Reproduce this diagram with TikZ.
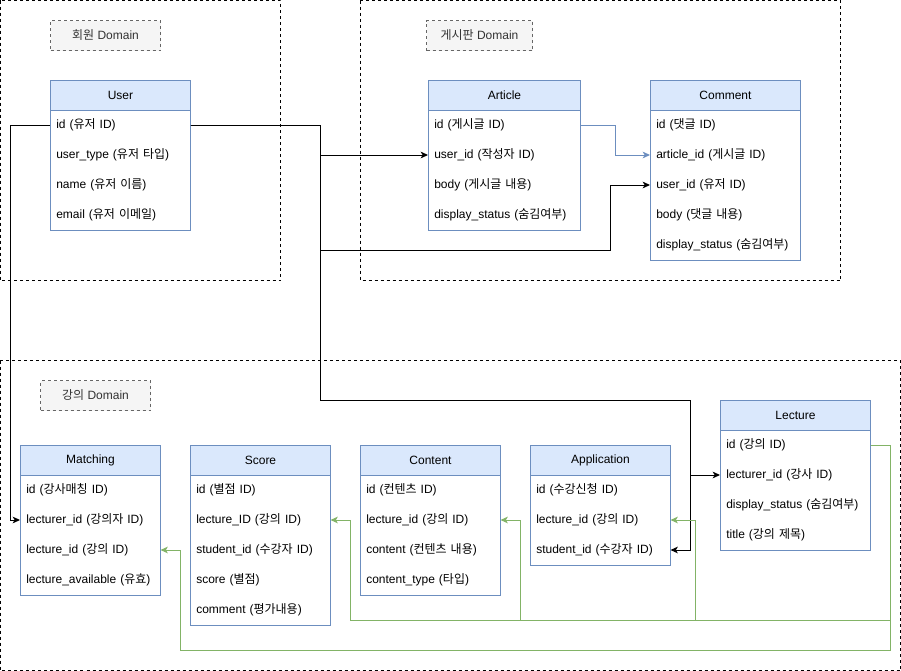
\documentclass[tikz,border=0pt]{standalone}
\usepackage{fontspec}
\setmainfont{Liberation Sans}
\newfontfamily\krfont{Noto Sans CJK KR}
\newcommand\kr[1]{{\krfont #1}}
\usetikzlibrary{arrows.meta}
\definecolor{hdrfill}{HTML}{DAE8FC}
\definecolor{hdrline}{HTML}{6C8EBF}
\definecolor{grn}{HTML}{82B366}
\definecolor{lblfill}{HTML}{F5F5F5}
\definecolor{lblline}{HTML}{666666}
\definecolor{lbltext}{HTML}{333333}
\tikzset{
  every node/.style={font=\fontsize{9pt}{11pt}\selectfont},
  domainbox/.style={draw=black, line width=0.75pt, dash pattern=on 2.25pt off 2.25pt},
  domlabel/.style={draw=lblline, fill=lblfill, text=lbltext, line width=0.75pt,
     dash pattern=on 2.25pt off 2.25pt, minimum width=#1, minimum height=22.5pt, inner sep=0pt, anchor=north west},
  hdr/.style={draw=hdrline, fill=hdrfill, line width=0.75pt, minimum width=#1, minimum height=22.5pt, inner sep=0pt, anchor=north west},
  tbody/.style={draw=hdrline, fill=white, line width=0.75pt, inner sep=0pt, anchor=north west},
  row/.style={minimum height=22.5pt, text width=#1, inner xsep=4.5pt, inner ysep=0pt, align=left, anchor=west},
  conn/.style={draw=black, line width=0.75pt, -{Stealth[length=5.5pt,width=5pt,inset=1.5pt]}},
  bconn/.style={draw=hdrline, line width=0.75pt, -{Stealth[length=5.5pt,width=5pt,inset=1.5pt]}},
  gconn/.style={draw=grn, line width=0.75pt, -{Stealth[length=5.5pt,width=5pt,inset=1.5pt]}},
}
\begin{document}
\begin{tikzpicture}[x=0.75pt,y=-0.75pt]
\useasboundingbox (0,0) rectangle (901,671);
% domains
\draw[domainbox] (0.5,0.5) rectangle (280.5,280.5);
\draw[domainbox] (360.5,0.5) rectangle (840.5,280.5);
\draw[domainbox] (0.5,360.5) rectangle (900.5,670.5);
\node[domlabel=82.5pt] (lbl1) at (50,20) {\kr{회원} Domain};
\node[domlabel=79.5pt] (lbl2) at (426,20) {\kr{게시판} Domain};
\node[domlabel=82.5pt] (lbl3) at (40,380) {\kr{강의} Domain};

% User
\node[tbody, minimum width=105pt, minimum height=90pt] (user) at (50,110) {};
\node[hdr=105pt] (user-h) at (50,80) {User};
\node[row=96pt] (user-id) at (50,125) {id (\kr{유저} ID)};
\node[row=96pt] (user-type) at (50,155) {user\_type (\kr{유저 타입})};
\node[row=96pt] (user-name) at (50,185) {name (\kr{유저 이름})};
\node[row=96pt] (user-mail) at (50,215) {email (\kr{유저 이메일})};

% Article
\node[tbody, minimum width=114pt, minimum height=90pt] (art) at (428,110) {};
\node[hdr=114pt] (art-h) at (428,80) {Article};
\node[row=105pt] (art-id) at (428,125) {id (\kr{게시글} ID)};
\node[row=105pt] (art-uid) at (428,155) {user\_id (\kr{작성자} ID)};
\node[row=105pt] (art-body) at (428,185) {body (\kr{게시글 내용})};
\node[row=105pt] (art-ds) at (428,215) {display\_status (\kr{숨김여부})};

% Comment
\node[tbody, minimum width=112.5pt, minimum height=112.5pt] (com) at (650,110) {};
\node[hdr=112.5pt] (com-h) at (650,80) {Comment};
\node[row=103.5pt] (com-id) at (650,125) {id (\kr{댓글} ID)};
\node[row=103.5pt] (com-aid) at (650,155) {article\_id (\kr{게시글} ID)};
\node[row=103.5pt] (com-uid) at (650,185) {user\_id (\kr{유저} ID)};
\node[row=103.5pt] (com-body) at (650,215) {body (\kr{댓글 내용})};
\node[row=103.5pt] (com-ds) at (650,245) {display\_status (\kr{숨김여부})};

% Matching
\node[tbody, minimum width=105pt, minimum height=90pt] (mat) at (20,475) {};
\node[hdr=105pt] (mat-h) at (20,445) {Matching};
\node[row=96pt] (mat-id) at (20,490) {id (\kr{강사매칭} ID)};
\node[row=96pt] (mat-lid) at (20,520) {lecturer\_id (\kr{강의자} ID)};
\node[row=96pt] (mat-leid) at (20,550) {lecture\_id (\kr{강의} ID)};
\node[row=96pt] (mat-av) at (20,580) {lecture\_available (\kr{유효})};

% Score
\node[tbody, minimum width=105pt, minimum height=112.5pt] (sco) at (190,475) {};
\node[hdr=105pt] (sco-h) at (190,445) {Score};
\node[row=96pt] (sco-id) at (190,490) {id (\kr{별점} ID)};
\node[row=96pt] (sco-lid) at (190,520) {lecture\_ID (\kr{강의} ID)};
\node[row=96pt] (sco-sid) at (190,550) {student\_id (\kr{수강자} ID)};
\node[row=96pt] (sco-sc) at (190,580) {score (\kr{별점})};
\node[row=96pt] (sco-cm) at (190,610) {comment (\kr{평가내용})};

% Content
\node[tbody, minimum width=105pt, minimum height=90pt] (con) at (360,475) {};
\node[hdr=105pt] (con-h) at (360,445) {Content};
\node[row=96pt] (con-id) at (360,490) {id (\kr{컨텐츠} ID)};
\node[row=96pt] (con-lid) at (360,520) {lecture\_id (\kr{강의} ID)};
\node[row=96pt] (con-ct) at (360,550) {content (\kr{컨텐츠 내용})};
\node[row=96pt] (con-ty) at (360,580) {content\_type (\kr{타입})};

% Application
\node[tbody, minimum width=105pt, minimum height=67.5pt] (app) at (530,475) {};
\node[hdr=105pt] (app-h) at (530,445) {Application};
\node[row=96pt] (app-id) at (530,490) {id (\kr{수강신청} ID)};
\node[row=96pt] (app-lid) at (530,520) {lecture\_id (\kr{강의} ID)};
\node[row=96pt] (app-sid) at (530,550) {student\_id (\kr{수강자} ID)};

% Lecture
\node[tbody, minimum width=112.5pt, minimum height=90pt] (lec) at (720,430) {};
\node[hdr=112.5pt] (lec-h) at (720,400) {Lecture};
\node[row=103.5pt] (lec-id) at (720,445) {id (\kr{강의} ID)};
\node[row=103.5pt] (lec-lid) at (720,475) {lecturer\_id (\kr{강사} ID)};
\node[row=103.5pt] (lec-ds) at (720,505) {display\_status (\kr{숨김여부})};
\node[row=103.5pt] (lec-ti) at (720,535) {title (\kr{강의 제목})};

% connectors (black)
\draw[conn] (user-id.east) -- (320,125) |- (art-uid.west);
\draw[conn] (user-id.east) -- (320,125) -- (320,250) -- (610,250) |- (com-uid.west);
\draw[conn] (user-id.east) -- (320,125) -- (320,400) -- (690,400) |- (lec-lid.west);
\draw[conn] (user-id.east) -- (320,125) -- (320,400) -- (690,400) |- (app-sid.east);
\draw[conn] (user-id.west) -- (10,125) |- (mat-lid.west);
% blue
\draw[bconn] (art-id.east) -- (615,125) |- (com-aid.west);
% green
\draw[gconn] (lec-id.east) -- (890,445) -- (890,620) -- (695,620) |- (app-lid.east);
\draw[gconn] (lec-id.east) -- (890,445) -- (890,620) -- (520,620) |- (con-lid.east);
\draw[gconn] (lec-id.east) -- (890,445) -- (890,620) -- (350,620) |- (sco-lid.east);
\draw[gconn] (lec-id.east) -- (890,445) -- (890,650) -- (180,650) |- (mat-leid.east);
\end{tikzpicture}
\end{document}
